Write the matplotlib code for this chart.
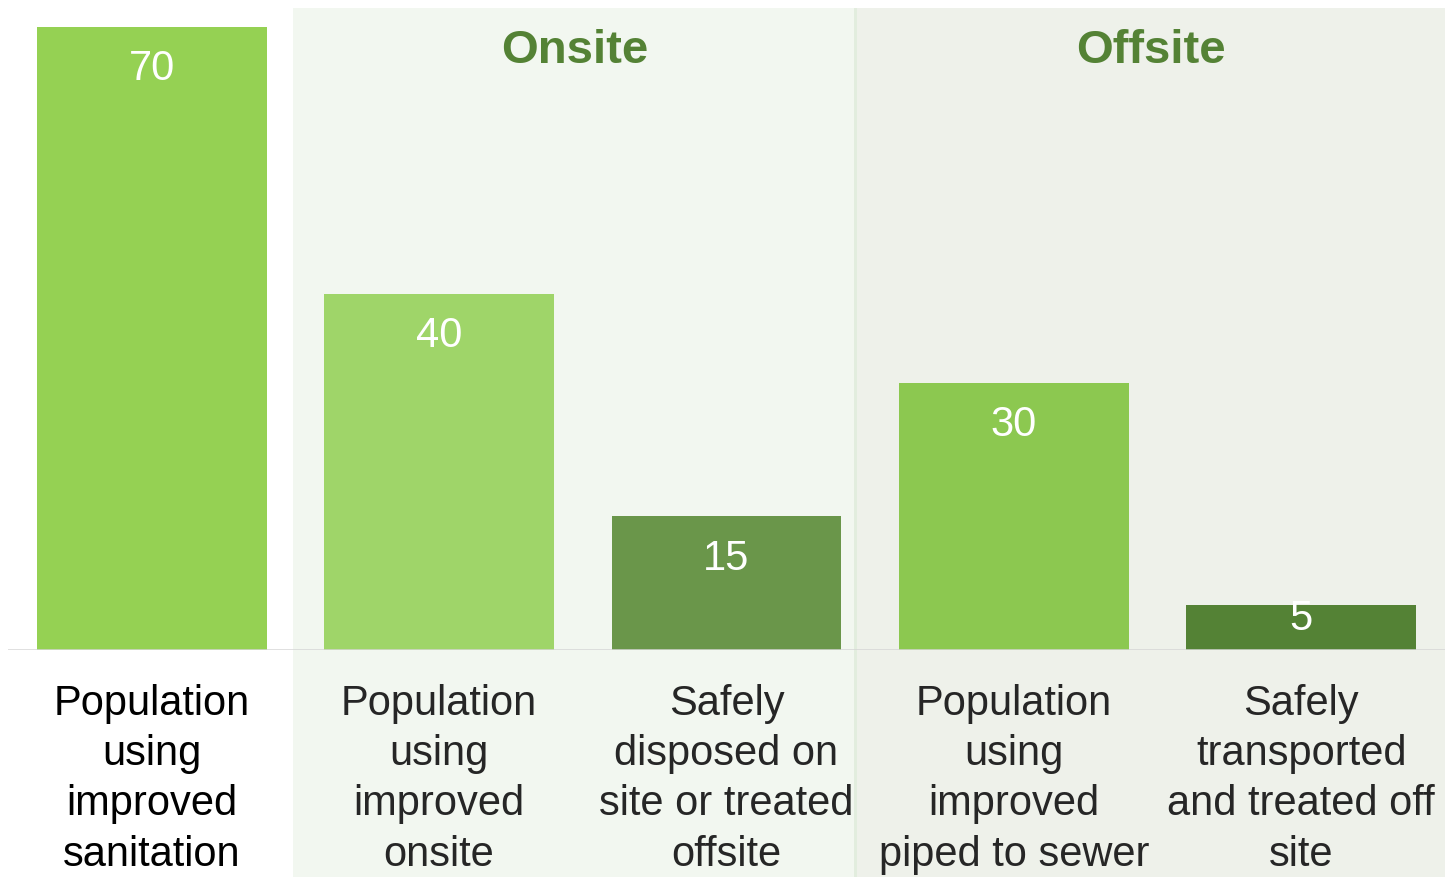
import matplotlib
matplotlib.use("Agg")
import matplotlib.pyplot as plt
from matplotlib.patches import Rectangle
from matplotlib import transforms

plt.rcParams["font.family"] = ["Liberation Sans", "DejaVu Sans"]

categories = [
    "Population\nusing\nimproved\nsanitation",
    "Population\nusing\nimproved\nonsite",
    "Safely\ndisposed on\nsite or treated\noffsite",
    "Population\nusing\nimproved\npiped to sewer",
    "Safely\ntransported\nand treated off\nsite",
]
values = [70, 40, 15, 30, 5]
bar_colors = ["#95D153", "#9FD569", "#6A964A", "#8CC850", "#548235"]
label_colors = ["#000000", "#262626", "#262626", "#262626", "#262626"]
groups = ["Onsite", "Offsite"]

W, H = 1445, 877
fig = plt.figure(figsize=(W / 100, H / 100), dpi=100)
fig.patch.set_facecolor("white")

# shaded group panels behind the axes (figure pixel coordinates)
def fig_rect(x0, y0, x1, y1, color, z):
    r = Rectangle((x0 / W, 1 - y1 / H), (x1 - x0) / W, (y1 - y0) / H,
                  transform=fig.transFigure, facecolor=color, edgecolor="none", zorder=z)
    fig.patches.append(r)

fig_rect(293, 8, 856, H, "#F2F7F0", 0)
fig_rect(856, 8, W, H, "#EEF1EA", 0)
fig_rect(854.5, 8, 857.5, H, "#E2EDDE", 0.5)

ax = fig.add_axes([8 / W, (H - 650) / H, (W - 8) / W, (650 - 8) / H])
ax.set_facecolor("none")
ax.set_zorder(1)
ax.set_xlim(-0.5, len(values) - 0.5)
ax.set_ylim(0, 72.1)
ax.axis("off")

xs = list(range(len(values)))
bars = ax.bar(xs, values, width=0.8, color=bar_colors, zorder=2)
ax.axhline(0, color="#D6D6D6", linewidth=1.8, zorder=3)

for x, v, b in zip(xs, values, bars):
    y = max(v - 5.96, 2.25)
    t = ax.text(x, y, str(v), ha="center", va="baseline", fontsize=30,
                color="white", zorder=4)
    t.set_clip_path(b)

# category labels under the baseline
tr = transforms.blended_transform_factory(ax.transData, fig.transFigure)
for x, lab, c in zip(xs, categories, label_colors):
    ax.text(x, 1 - 684 / H, lab, transform=tr, ha="center", va="top",
            fontsize=30, color=c, linespacing=1.33, clip_on=False)

# group headers
fig.text(574.5 / W, 1 - 63 / H, groups[0], ha="center", va="baseline",
         fontsize=34, fontweight="bold", color="#548235")
fig.text(1150.5 / W, 1 - 63 / H, groups[1], ha="center", va="baseline",
         fontsize=34, fontweight="bold", color="#548235")

fig.savefig("out.png", dpi=100)
